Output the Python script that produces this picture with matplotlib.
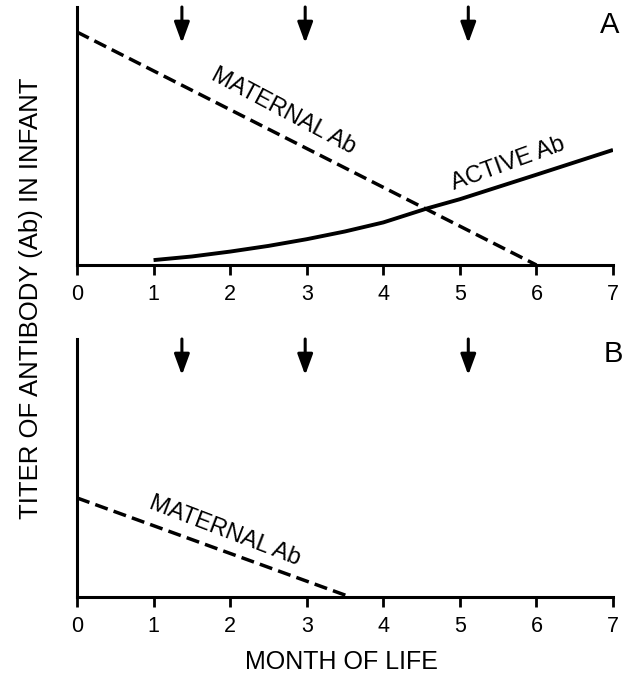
import matplotlib
matplotlib.use("Agg")
import matplotlib.pyplot as plt

plt.rcParams['font.family'] = ['Liberation Sans', 'DejaVu Sans']

# data (y in arbitrary titer units, axis 0..10)
months = [0, 1, 2, 3, 4, 5, 6, 7]
maternal_a_x = [0, 6]
maternal_a_y = [9.03, 0]
active_x = [1, 1.5, 2, 2.5, 3, 3.5, 4, 4.58, 5, 6, 7]
active_y = [0.19, 0.33, 0.52, 0.74, 1.0, 1.3, 1.65, 2.2, 2.55, 3.5, 4.46]
maternal_b_x = [0, 3.57]
maternal_b_y = [3.84, 0]
vaccine_months = [1.37, 2.98, 5.11]

fig = plt.figure(figsize=(6.22, 6.78), dpi=100)
ax_a = fig.add_axes([77 / 622, 1 - 265 / 678, 536 / 622, 258 / 678])
ax_b = fig.add_axes([77 / 622, 1 - 597 / 678, 536 / 622, 258 / 678])


def style_axes(ax):
    ax.set_xlim(0, 7)
    ax.set_ylim(0, 10)
    for s in ['top', 'right']:
        ax.spines[s].set_visible(False)
    for s in ['left', 'bottom']:
        ax.spines[s].set_linewidth(2.2)
    ax.set_yticks([])
    ax.set_xticks(months)
    ax.set_xticklabels([str(m) for m in months])
    ax.tick_params(axis='x', direction='out', length=7, width=2, pad=7, labelsize=15.5)
    for m in vaccine_months:
        ax.annotate('', xy=(m, 0.86), xytext=(m, 1.0),
                    xycoords=('data', 'axes fraction'),
                    arrowprops=dict(arrowstyle='-|>,head_length=0.9,head_width=0.33',
                                    lw=2.2, color='black', shrinkA=0, shrinkB=0,
                                    mutation_scale=14))


style_axes(ax_a)
style_axes(ax_b)

# panel A
ax_a.plot(maternal_a_x, maternal_a_y, color='black', lw=2.5, linestyle=(0, (3.8, 1.8)))
ax_a.plot(active_x, active_y, color='black', lw=2.8, solid_capstyle='butt')
ax_a.text(2.7, 5.95, 'MATERNAL Ab', rotation=-28, rotation_mode='anchor',
          ha='center', va='center', fontsize=17)
ax_a.text(5.63, 3.9, 'ACTIVE Ab', rotation=20, rotation_mode='anchor',
          ha='center', va='center', fontsize=17)
ax_a.text(6.95, 9.3, 'A', ha='center', va='center', fontsize=21)

# panel B
ax_b.plot(maternal_b_x, maternal_b_y, color='black', lw=2.5, linestyle=(0, (3.8, 1.8)))
ax_b.text(1.93, 2.55, 'MATERNAL Ab', rotation=-21, rotation_mode='anchor',
          ha='center', va='center', fontsize=17)
ax_b.text(7.0, 9.4, 'B', ha='center', va='center', fontsize=21)

fig.text(341.5 / 622, 1 - 662 / 678, 'MONTH OF LIFE', ha='center', va='center', fontsize=18)
fig.text(31 / 622, 1 - 298 / 678, 'TITER OF ANTIBODY (Ab) IN INFANT', rotation=90,
         ha='center', va='center', fontsize=18.5)

fig.savefig('out.png', dpi=100)
